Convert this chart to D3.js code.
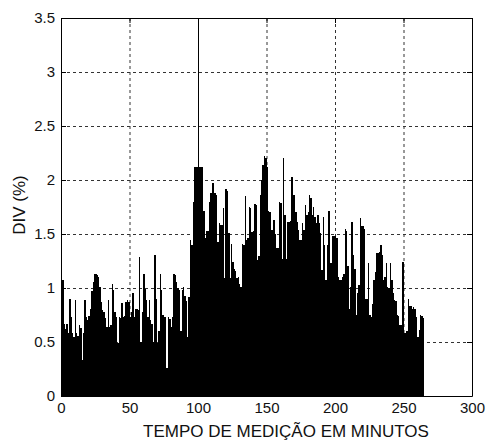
<!DOCTYPE html>
<html>
<head>
<meta charset="utf-8">
<script src="https://cdn.jsdelivr.net/npm/d3@7"></script>
<style>
  body { margin: 0; background: #fff; }
  svg { display: block; }
  .tick text { font-family: "Liberation Sans", Arial, sans-serif; font-size: 15px; fill: #111; }
  .axis path, .axis line { stroke: #000; }
  .grid line { stroke: #333; stroke-dasharray: 3,3; }
  .bar { shape-rendering: crispEdges; }
  .title { font-family: "Liberation Sans", Arial, sans-serif; font-size: 17px; fill: #111; }
</style>
</head>
<body>
<div id="chart"></div>
<script>
// DIV (%) per minute (minute 0 .. 264)
var divValues = [
  1.30, 1.07, 0.67, 0.62, 0.67, 0.58, 0.90, 0.73, 0.58, 0.55,
  0.89, 0.58, 0.56, 0.66, 0.63, 0.33, 0.58, 0.89, 0.73, 0.70,
  0.74, 0.81, 0.97, 1.06, 1.13, 1.13, 1.12, 1.10, 1.01, 0.87,
  0.80, 0.78, 0.72, 0.64, 0.89, 0.64, 0.66, 1.04, 0.98, 0.78,
  0.73, 0.49, 0.73, 0.72, 0.86, 0.73, 0.74, 0.87, 0.89, 0.87,
  0.73, 0.78, 0.95, 0.73, 0.81, 0.81, 0.80, 1.29, 0.50, 0.78,
  1.13, 0.99, 0.89, 0.73, 0.89, 0.70, 0.67, 0.50, 1.31, 0.90,
  0.49, 0.60, 1.13, 0.98, 0.75, 0.73, 0.73, 0.26, 0.73, 0.71,
  0.64, 0.73, 1.13, 1.12, 1.06, 1.00, 0.98, 0.60, 0.98, 1.01,
  0.93, 0.88, 0.55, 0.92, 1.44, 1.40, 1.80, 2.12, 2.12, 2.12,
  3.50, 2.12, 2.12, 2.12, 1.71, 1.46, 1.53, 1.53, 1.80, 1.88,
  1.97, 1.97, 1.88, 1.86, 1.43, 1.60, 1.58, 1.58, 1.74, 1.09,
  1.92, 1.90, 1.51, 1.09, 1.41, 1.24, 1.18, 1.16, 1.09, 1.10,
  1.04, 1.01, 1.41, 1.40, 1.85, 1.44, 1.46, 1.75, 1.74, 1.52,
  1.53, 1.78, 1.77, 1.26, 1.30, 1.86, 2.00, 2.14, 2.22, 2.20,
  2.12, 1.71, 1.70, 1.54, 1.54, 1.63, 1.50, 1.37, 1.37, 1.80,
  1.79, 1.27, 2.20, 1.68, 1.27, 1.61, 1.61, 1.62, 2.03, 1.86,
  1.86, 1.70, 1.61, 1.54, 1.44, 1.44, 1.60, 1.54, 1.77, 1.68,
  1.70, 1.86, 1.83, 1.68, 1.75, 1.66, 1.60, 1.68, 1.60, 1.51,
  1.17, 1.66, 1.40, 1.07, 1.40, 1.71, 1.23, 1.23, 1.48, 1.48,
  1.48, 1.46, 1.10, 1.07, 1.07, 1.10, 1.13, 1.55, 1.53, 1.20,
  0.81, 1.01, 1.61, 1.31, 1.18, 0.75, 0.95, 1.03, 1.65, 1.57,
  1.57, 1.55, 0.90, 0.90, 1.23, 0.75, 0.73, 0.85, 1.07, 1.15,
  1.32, 1.32, 1.33, 1.40, 1.31, 1.07, 1.10, 1.23, 1.01, 1.00,
  1.23, 1.07, 0.95, 0.89, 0.88, 0.75, 0.74, 0.66, 0.66, 1.24,
  0.58, 0.58, 0.60, 0.90, 0.83, 0.83, 0.81, 0.82, 0.81, 0.73,
  0.55, 0.61, 0.75, 0.74, 0.72
];
var xTicks = [0, 50, 100, 150, 200, 250, 300];
var yTicks = [0, 0.5, 1, 1.5, 2, 2.5, 3, 3.5];
var xLabel = "TEMPO DE MEDIÇÃO EM MINUTOS";
var yLabel = "DIV (%)";

var margin = {top: 18, right: 17, bottom: 45, left: 61},
    width = 489 - margin.left - margin.right,
    height = 441 - margin.top - margin.bottom;

var x = d3.scaleLinear().domain([0, 300]).range([0, width]);
var y = d3.scaleLinear().domain([0, 3.5]).range([height, 0]);

var svg = d3.select("#chart").append("svg")
    .attr("width", 489)
    .attr("height", 441)
  .append("g")
    .attr("transform", "translate(" + margin.left + "," + margin.top + ")");

// dashed grid
var grid = svg.append("g").attr("class", "grid");
grid.selectAll(".gx")
    .data(xTicks.slice(1, -1))
    .enter().append("line")
    .attr("x1", function(d) { return x(d) + 0.5; })
    .attr("x2", function(d) { return x(d) + 0.5; })
    .attr("y1", 0).attr("y2", height);
grid.selectAll(".gy")
    .data(yTicks.slice(1, -1))
    .enter().append("line")
    .attr("y1", function(d) { return Math.round(y(d)) + 0.5; })
    .attr("y2", function(d) { return Math.round(y(d)) + 0.5; })
    .attr("x1", 0).attr("x2", width);

// bars, one per minute
svg.selectAll(".bar")
    .data(divValues)
    .enter().append("rect")
    .attr("class", "bar")
    .attr("fill", "#000")
    .attr("x", function(d, i) { return x(i); })
    .attr("width", function(d, i) { return x(i + 1) - x(i); })
    .attr("y", function(d) { return y(d); })
    .attr("height", function(d) { return height - y(d); });

// axes, ticks pointing inwards
svg.append("g")
    .attr("class", "axis")
    .attr("transform", "translate(0," + height + ")")
    .call(d3.axisBottom(x).tickValues(xTicks).tickSize(-5).tickPadding(6).tickSizeOuter(0));
svg.append("g")
    .attr("class", "axis")
    .call(d3.axisLeft(y).tickValues(yTicks).tickFormat(d3.format("")).tickSize(-5).tickPadding(6).tickSizeOuter(0));
svg.append("g")
    .attr("class", "axis")
    .call(d3.axisTop(x).tickValues(xTicks).tickSize(-5).tickFormat("").tickSizeOuter(0));
svg.append("g")
    .attr("class", "axis")
    .attr("transform", "translate(" + width + ",0)")
    .call(d3.axisRight(y).tickValues(yTicks).tickSize(-5).tickFormat("").tickSizeOuter(0));

// axis titles
svg.append("text")
    .attr("class", "title")
    .attr("x", 286 - margin.left)
    .attr("y", 437 - margin.top)
    .attr("text-anchor", "middle")
    .text(xLabel);
svg.append("text")
    .attr("class", "title")
    .attr("transform", "translate(" + (25 - margin.left) + "," + (205 - margin.top) + ") rotate(-90)")
    .attr("text-anchor", "middle")
    .text(yLabel);
</script>
</body>
</html>
